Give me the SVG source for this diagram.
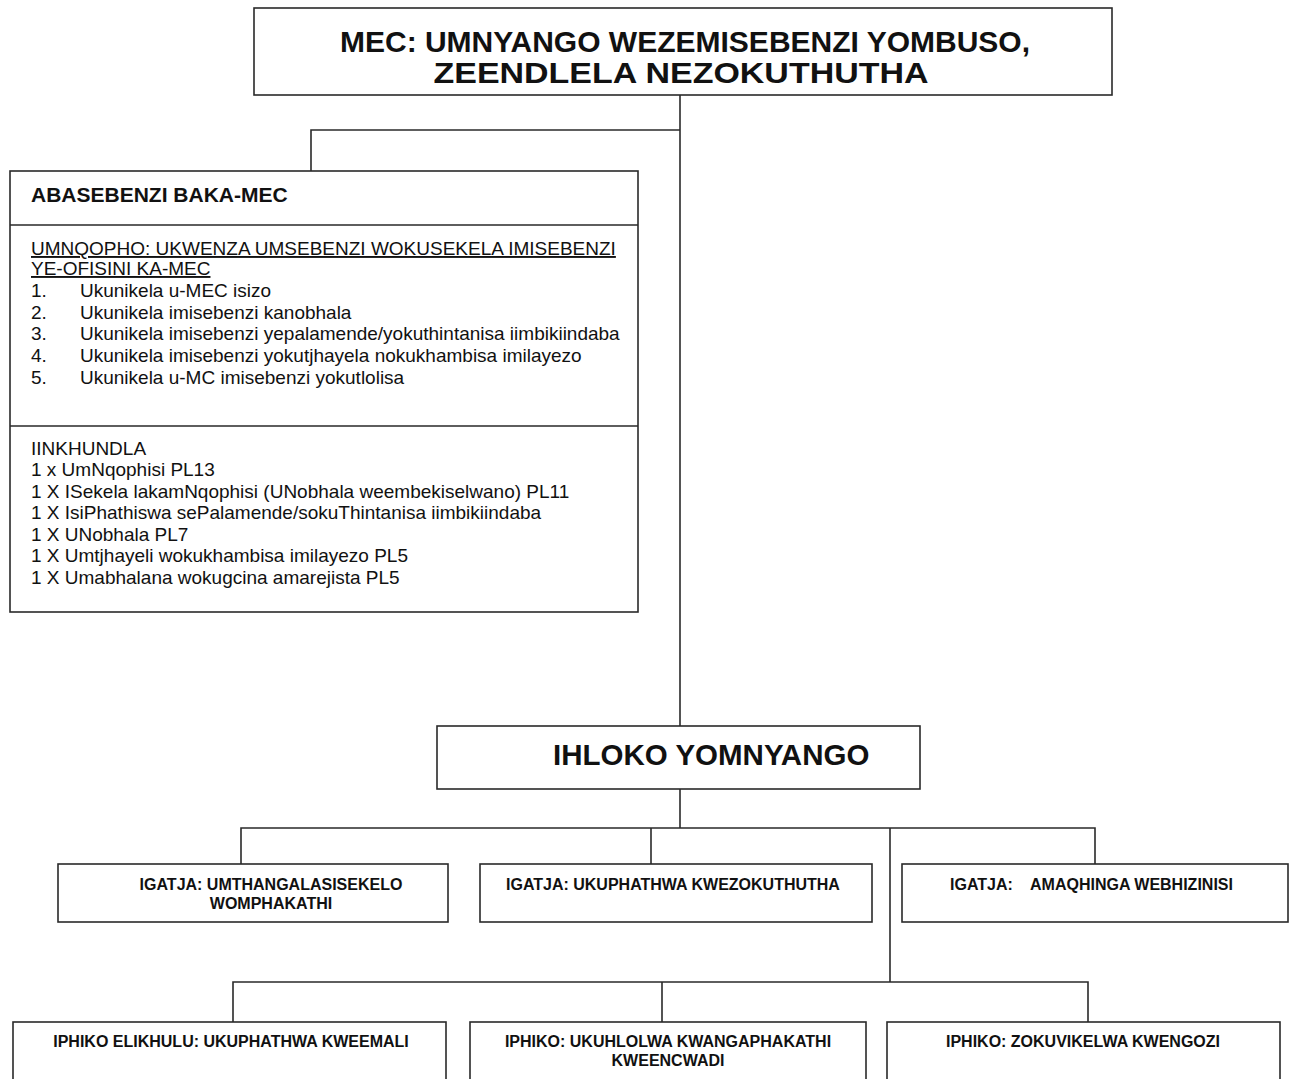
<svg xmlns="http://www.w3.org/2000/svg" width="1298" height="1079" viewBox="0 0 1298 1079">
<style>
.box{fill:#fff;stroke:#2a2a2a;stroke-width:1.6}
.ln{fill:none;stroke:#2a2a2a;stroke-width:1.6}
text{font-family:"Liberation Sans",Arial,sans-serif;fill:#111}
.b{font-weight:bold}
.t1{font-size:30px;font-weight:bold}
.hd{font-size:21px;font-weight:bold}
.bd{font-size:19px}
.u{text-decoration:underline}
.sm{font-size:16px;font-weight:bold}
</style>
<rect width="1298" height="1079" fill="#fff"/>
<g id="connectors">
<path class="ln" d="M680,95 V726"/>
<path class="ln" d="M680,130 H311 V171"/>
<path class="ln" d="M680,789 V828"/>
<path class="ln" d="M241,864 V828 H1095 V864"/>
<path class="ln" d="M651,828 V864"/>
<path class="ln" d="M890,828 V982"/>
<path class="ln" d="M233,1022 V982 H1088 V1022"/>
<path class="ln" d="M662,982 V1022"/>
</g>
<g id="mec">
<rect class="box" x="254" y="8" width="858" height="87"/>
<text class="t1" x="685" y="52" text-anchor="middle">MEC: UMNYANGO WEZEMISEBENZI YOMBUSO,</text>
<text class="t1" x="681" y="83" text-anchor="middle" textLength="495" lengthAdjust="spacingAndGlyphs">ZEENDLELA NEZOKUTHUTHA</text>
</g>
<g id="abasebenzi">
<rect class="box" x="10" y="171" width="628" height="441"/>
<path class="ln" d="M10,225 H638 M10,426 H638"/>
<text class="hd" x="31" y="202">ABASEBENZI BAKA-MEC</text>
<text class="bd u" x="31" y="255">UMNQOPHO: UKWENZA UMSEBENZI WOKUSEKELA IMISEBENZI</text>
<text class="bd u" x="31" y="275">YE-OFISINI KA-MEC</text>
<text class="bd" x="31" y="297">1.</text><text class="bd" x="80" y="297">Ukunikela u-MEC isizo</text>
<text class="bd" x="31" y="319">2.</text><text class="bd" x="80" y="319">Ukunikela imisebenzi kanobhala</text>
<text class="bd" x="31" y="340">3.</text><text class="bd" x="80" y="340">Ukunikela imisebenzi yepalamende/yokuthintanisa iimbikiindaba</text>
<text class="bd" x="31" y="362">4.</text><text class="bd" x="80" y="362">Ukunikela imisebenzi yokutjhayela nokukhambisa imilayezo</text>
<text class="bd" x="31" y="384">5.</text><text class="bd" x="80" y="384">Ukunikela u-MC imisebenzi yokutlolisa</text>
<text class="bd" x="31" y="455">IINKHUNDLA</text>
<text class="bd" x="31" y="476">1 x UmNqophisi PL13</text>
<text class="bd" x="31" y="498">1 X ISekela lakamNqophisi (UNobhala weembekiselwano) PL11</text>
<text class="bd" x="31" y="519">1 X IsiPhathiswa sePalamende/sokuThintanisa iimbikiindaba</text>
<text class="bd" x="31" y="541">1 X UNobhala PL7</text>
<text class="bd" x="31" y="562">1 X Umtjhayeli wokukhambisa imilayezo PL5</text>
<text class="bd" x="31" y="584">1 X Umabhalana wokugcina amarejista PL5</text>
</g>
<g id="ihloko">
<rect class="box" x="437" y="726" width="483" height="63"/>
<text class="b" x="553" y="765" font-size="29.5">IHLOKO YOMNYANGO</text>
</g>
<g id="igatja1">
<rect class="box" x="58" y="864" width="390" height="58"/>
<text class="sm" x="271" y="890" text-anchor="middle">IGATJA: UMTHANGALASISEKELO</text>
<text class="sm" x="271" y="909" text-anchor="middle">WOMPHAKATHI</text>
</g>
<g id="igatja2">
<rect class="box" x="480" y="864" width="392" height="58"/>
<text class="sm" x="506" y="890">IGATJA: UKUPHATHWA KWEZOKUTHUTHA</text>
</g>
<g id="igatja3">
<rect class="box" x="902" y="864" width="386" height="58"/>
<text class="sm" x="950" y="890">IGATJA:</text>
<text class="sm" x="1030" y="890">AMAQHINGA WEBHIZINISI</text>
</g>
<g id="iphiko1">
<rect class="box" x="13" y="1022" width="433" height="70"/>
<text class="sm" x="231" y="1047" text-anchor="middle">IPHIKO ELIKHULU: UKUPHATHWA KWEEMALI</text>
</g>
<g id="iphiko2">
<rect class="box" x="470" y="1022" width="396" height="70"/>
<text class="sm" x="668" y="1047" text-anchor="middle">IPHIKO: UKUHLOLWA KWANGAPHAKATHI</text>
<text class="sm" x="668" y="1066" text-anchor="middle">KWEENCWADI</text>
</g>
<g id="iphiko3">
<rect class="box" x="887" y="1022" width="393" height="70"/>
<text class="sm" x="1083" y="1047" text-anchor="middle">IPHIKO: ZOKUVIKELWA KWENGOZI</text>
</g>
</svg>
